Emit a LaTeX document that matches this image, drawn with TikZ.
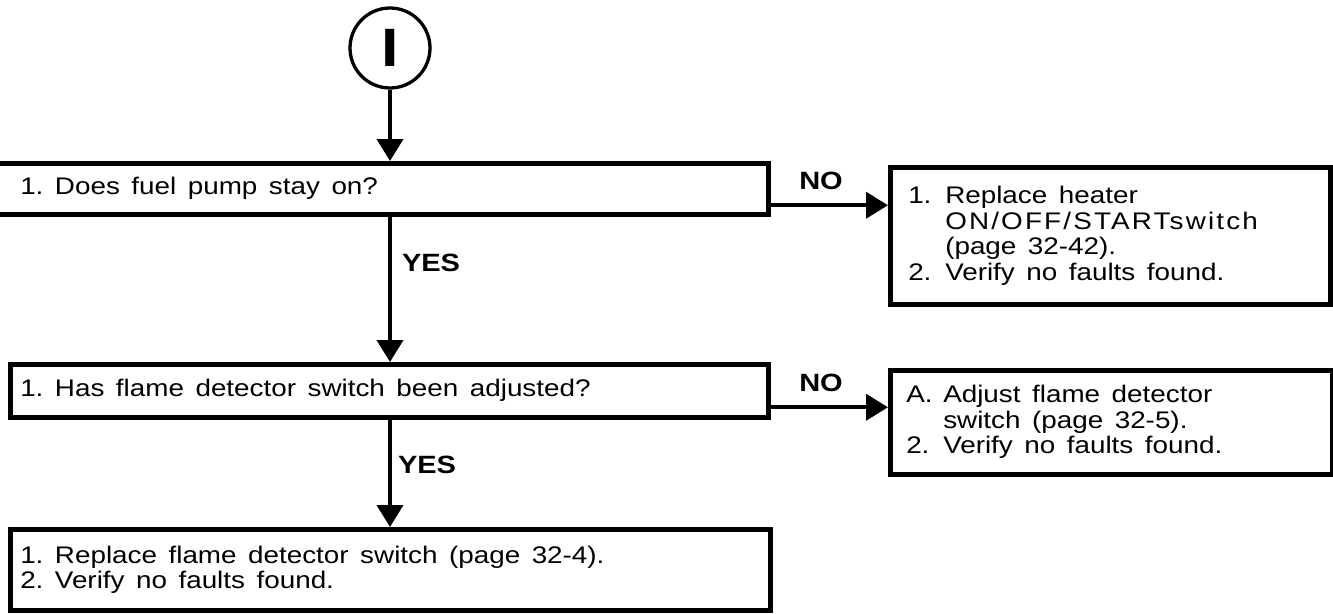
\documentclass[tikz,border=0pt]{standalone}
\usepackage{fontspec}
\setmainfont[FakeStretch=1.16]{Liberation Sans}
\usetikzlibrary{arrows.meta}

\newcommand{\boxfont}{\fontsize{24}{25.5}\selectfont}
\newcommand{\widespace}{\spaceskip=11.5pt plus 1pt\xspaceskip=11.5pt plus 1pt\relax}
\newcommand{\itm}[1]{\makebox[37pt][l]{#1}}

\tikzset{
  stepbox/.style={draw, line width=4.5pt, rectangle, anchor=north west, inner ysep=0pt, align=left, font=\boxfont, execute at begin node=\widespace},
  flow/.style={line width=4pt, -{Triangle[width=26pt,length=22pt]}},
  answer/.style={font=\bfseries\fontsize{25}{25}\selectfont, inner sep=0pt}
}

\begin{document}
\begin{tikzpicture}[x=1pt, y=-1pt]
\useasboundingbox[fill=white] (0,0) rectangle (1333,613);

\node[circle, draw, line width=3.3pt, minimum size=80pt, inner sep=0pt, font=\bfseries\fontsize{54}{54}\selectfont] (c0) at (390,48) {I};

\node[stepbox, inner xsep=38pt, text width=710pt, minimum height=51pt] (q1) at (-20,161) {1. Does fuel pump stay on?};
\node[stepbox, inner xsep=10pt, text width=738pt, minimum height=53pt] (q2) at (8,362) {1. Has flame detector switch been adjusted?};
\node[stepbox, inner xsep=10pt, text width=740pt, minimum height=81pt] (q3) at (8,527) {1. Replace flame detector switch (page 32-4).\\2. Verify no faults found.};

\node[stepbox, inner xsep=18pt, text width=404pt, minimum height=137pt] (r1) at (888,165)
  {\itm{1.}Replace heater\\ \itm{}{\addfontfeature{LetterSpace=9}ON/OFF/STARTswitch}\\ \itm{}(page 32-42).\\ \itm{2.}Verify no faults found.};
\node[stepbox, inner xsep=16pt, text width=410pt, minimum height=104pt] (r2) at (888,368)
  {\itm{A.}Adjust flame detector\\ \itm{}switch (page 32-5).\\ \itm{2.}Verify no faults found.};

\draw[flow] (c0) -- (c0 |- q1.north);
\draw[flow] (c0 |- q1.south) -- (c0 |- q2.north) node[answer, pos=0.32, right=10pt] {YES};
\draw[flow] (c0 |- q2.south) -- (c0 |- q3.north) node[answer, pos=0.42, right=6pt] {YES};

\draw[flow] ([yshift=-16.5pt]q1.east) -- ([yshift=-16.5pt]q1.east -| r1.west) node[answer, pos=0.43, above=14pt] {NO};
\draw[flow] ([yshift=-16.5pt]q2.east) -- ([yshift=-16.5pt]q2.east -| r2.west) node[answer, pos=0.43, above=14pt] {NO};
\end{tikzpicture}
\end{document}
